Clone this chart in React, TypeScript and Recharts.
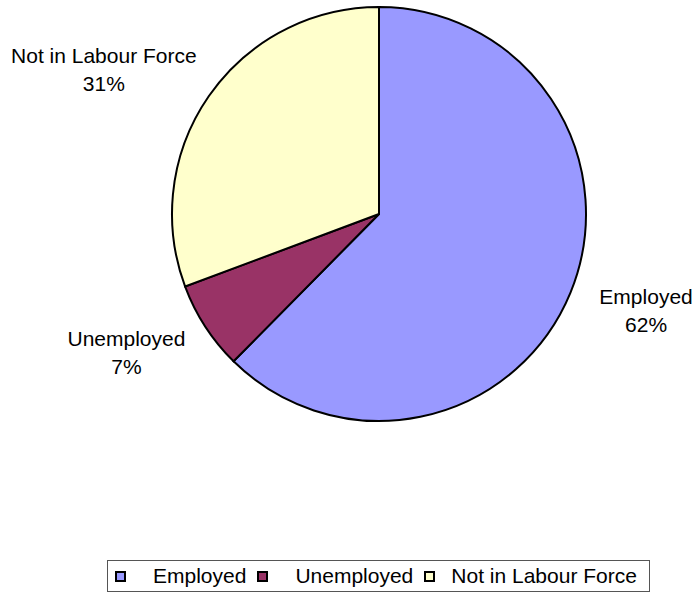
import React from 'react'
import { PieChart, Pie, Cell } from 'recharts'

const categories = ['Employed', 'Unemployed', 'Not in Labour Force']
const shares = [62.4, 6.9, 30.7]
const colors = ['#9999FF', '#993366', '#FFFFCC']

const data = categories.map((name, i) => ({ name, value: shares[i] }))

const FONT = '"Liberation Sans", Arial, sans-serif'
const FONT_SIZE = 21
const RADIAN = Math.PI / 180

let ctx: CanvasRenderingContext2D | null = null
const measure = (s: string) => {
  if (!ctx) ctx = document.createElement('canvas').getContext('2d')
  if (!ctx) return s.length * FONT_SIZE * 0.5
  ctx.font = `${FONT_SIZE}px ${FONT}`
  return ctx.measureText(s).width
}

// label box sits just outside the pie, its edge touching a point on the mid-angle ray
const renderLabel = (props: any) => {
  const { cx, cy, midAngle, outerRadius, percent, name } = props
  const pct = `${Math.round(percent * 100)}%`
  const w = Math.max(measure(name), measure(pct))
  const h = 24
  const cos = Math.cos(-midAngle * RADIAN)
  const sin = Math.sin(-midAngle * RADIAN)
  const r = outerRadius + 35
  const px = cx + r * cos
  const py = cy + r * sin
  const bx = px + (cos * w) / 2
  const by = py + (sin * h) / 2
  return (
    <text x={bx} y={by} textAnchor="middle" fontFamily={FONT} fontSize={FONT_SIZE} fill="#000">
      <tspan x={bx} y={by - 14} dominantBaseline="central">{name}</tspan>
      <tspan x={bx} y={by + 14} dominantBaseline="central">{pct}</tspan>
    </text>
  )
}

const Legend: React.FC = () => (
  <div
    style={{
      position: 'absolute',
      left: 107,
      top: 560,
      width: 543,
      height: 32,
      boxSizing: 'border-box',
      border: '1px solid #555',
      background: '#fff',
      display: 'flex',
      alignItems: 'center',
      paddingLeft: 7,
      fontFamily: FONT,
      fontSize: FONT_SIZE,
      color: '#000',
      whiteSpace: 'nowrap',
    }}
  >
    {categories.map((c, i) => (
      <div key={c} style={{ display: 'flex', alignItems: 'center', marginRight: 11 }}>
        <span
          style={{
            width: 11,
            height: 11,
            boxSizing: 'border-box',
            border: '2px solid #000',
            background: colors[i],
            marginRight: i < 2 ? 27 : 16,
          }}
        />
        <span>{c}</span>
      </div>
    ))}
  </div>
)

const App: React.FC = () => {
  return (
    <div style={{ position: 'absolute', left: 0, top: 0, width: 699, height: 596, background: '#fff' }}>
      <PieChart width={699} height={596} margin={{ top: 0, right: 0, bottom: 0, left: 0 }}>
        <Pie
          data={data}
          dataKey="value"
          nameKey="name"
          cx={379}
          cy={214}
          outerRadius={207}
          startAngle={90}
          endAngle={-270}
          stroke="#000"
          strokeWidth={2}
          label={renderLabel}
          labelLine={false}
          isAnimationActive={false}
        >
          {data.map((d, i) => (
            <Cell key={d.name} fill={colors[i]} />
          ))}
        </Pie>
      </PieChart>
      <Legend />
    </div>
  )
}

export default App
